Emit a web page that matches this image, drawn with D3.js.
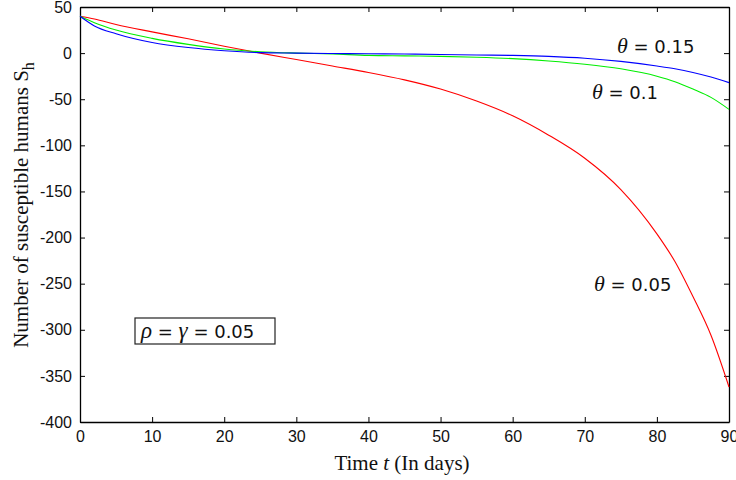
<!DOCTYPE html>
<html>
<head>
<meta charset="utf-8">
<script src="https://cdn.jsdelivr.net/npm/d3@7"></script>
<style>
  body { margin: 0; background: #fff; }
  .tick text { font-family: "Liberation Sans", Arial, sans-serif; font-size: 16px; fill: #111; }
  .domain, .tick line { stroke: #000; }
</style>
</head>
<body>
<div class="canva"></div>
<script>
// values
const days   = [0, 2, 5, 10, 15, 20, 25, 30, 35, 40, 45, 50, 55, 60, 65, 70, 75, 80, 82.5, 85, 87.5, 90];
const theta005 = [40, 37, 31, 23, 15.5, 7.5, 0, -7, -14, -21, -29, -39, -52, -68, -89, -114, -148, -196, -226, -264, -306, -362];
const theta010 = [40, 33, 25, 16, 9.5, 4.5, 1.5, 0, -1, -2.5, -3, -3.5, -4.5, -6, -8.5, -12, -17, -25, -31, -39, -48, -61];
const theta015 = [40, 29.5, 21, 11.5, 6, 2.5, 0.5, 0, -0.5, -0.7, -1, -1.5, -2, -2.5, -3.5, -5.5, -9, -14, -17, -21, -26, -32];
const xTicks = [0, 10, 20, 30, 40, 50, 60, 70, 80, 90];
const yTicks = [50, 0, -50, -100, -150, -200, -250, -300, -350, -400];

const width = 736, height = 480;
const margin = {top: 7, right: 7, bottom: 58, left: 80};
const graphWidth = width - margin.left - margin.right;
const graphHeight = height - margin.top - margin.bottom;

const svg = d3.select('.canva').append('svg')
    .attr('width', width)
    .attr('height', height);

const graph = svg.append('g')
    .attr('transform', `translate(${margin.left}, ${margin.top})`);

const x = d3.scaleLinear().domain([0, 90]).range([0, graphWidth]);
const y = d3.scaleLinear().domain([-400, 50]).range([graphHeight, 0]);

// plain hyphen minus like the original
const fmt = d => String(d);

// axes, ticks pointing inwards
graph.append('g')
    .attr('transform', `translate(0, ${graphHeight})`)
    .call(d3.axisBottom(x).tickValues(xTicks).tickSize(-5).tickSizeOuter(0).tickPadding(9).tickFormat(fmt));
graph.append('g')
    .call(d3.axisTop(x).tickValues(xTicks).tickSize(-5).tickSizeOuter(0).tickFormat(''));
graph.append('g')
    .call(d3.axisLeft(y).tickValues(yTicks).tickSize(-5).tickSizeOuter(0).tickPadding(8).tickFormat(fmt));
graph.append('g')
    .attr('transform', `translate(${graphWidth}, 0)`)
    .call(d3.axisRight(y).tickValues(yTicks).tickSize(-5).tickSizeOuter(0).tickFormat(''));

graph.selectAll('.domain').attr('stroke-width', 1.3);

// curves
const series = [
  {vals: theta005, color: '#ff0000'},
  {vals: theta010, color: '#00ee00'},
  {vals: theta015, color: '#0000ff'}
];
const line = d3.line()
    .x((d, i) => x(days[i]))
    .y(d => y(d))
    .curve(d3.curveMonotoneX);

graph.selectAll('path.series')
    .data(series)
    .enter().append('path')
    .attr('class', 'series')
    .attr('fill', 'none')
    .attr('stroke', d => d.color)
    .attr('stroke-width', 1.1)
    .attr('d', d => line(d.vals));

// curve labels
const labels = [
  {text: '0.15', x: 617, y: 53},
  {text: '0.1', x: 592, y: 99},
  {text: '0.05', x: 594, y: 291}
];
labels.forEach(l => {
  const t = svg.append('text')
      .attr('x', l.x).attr('y', l.y)
      .attr('fill', '#111');
  t.append('tspan').attr('font-family', '"Liberation Serif", serif').attr('font-style', 'italic').attr('font-size', 22).text('θ');
  t.append('tspan').attr('font-family', '"DejaVu Sans", sans-serif').attr('font-size', 18).text(' = ' + l.text);
});

// parameter box
svg.append('rect')
    .attr('x', 135).attr('y', 318)
    .attr('width', 140).attr('height', 26)
    .attr('fill', 'none').attr('stroke', '#222').attr('stroke-width', 1.2);
const pt = svg.append('text').attr('x', 141).attr('y', 338).attr('fill', '#111');
pt.append('tspan').attr('font-family', '"Liberation Serif", serif').attr('font-style', 'italic').attr('font-size', 23).text('ρ');
pt.append('tspan').attr('font-family', '"DejaVu Sans", sans-serif').attr('font-size', 18).text(' = ');
pt.append('tspan').attr('font-family', '"Liberation Serif", serif').attr('font-style', 'italic').attr('font-size', 23).text('γ');
pt.append('tspan').attr('font-family', '"DejaVu Sans", sans-serif').attr('font-size', 18).text(' = 0.05');

// axis titles
const xt = svg.append('text')
    .attr('x', 402).attr('y', 470)
    .attr('text-anchor', 'middle')
    .attr('font-family', '"Liberation Serif", serif').attr('font-size', 21).attr('fill', '#111');
xt.append('tspan').text('Time ');
xt.append('tspan').attr('font-style', 'italic').text('t');
xt.append('tspan').text(' (In days)');

const yt = svg.append('text')
    .attr('transform', `translate(28, 205) rotate(-90)`)
    .attr('text-anchor', 'middle')
    .attr('font-family', '"Liberation Serif", serif').attr('font-size', 21).attr('fill', '#111');
yt.append('tspan').text('Number of susceptible humans S');
yt.append('tspan').attr('dy', 6).attr('font-size', 16).text('h');
</script>
</body>
</html>
